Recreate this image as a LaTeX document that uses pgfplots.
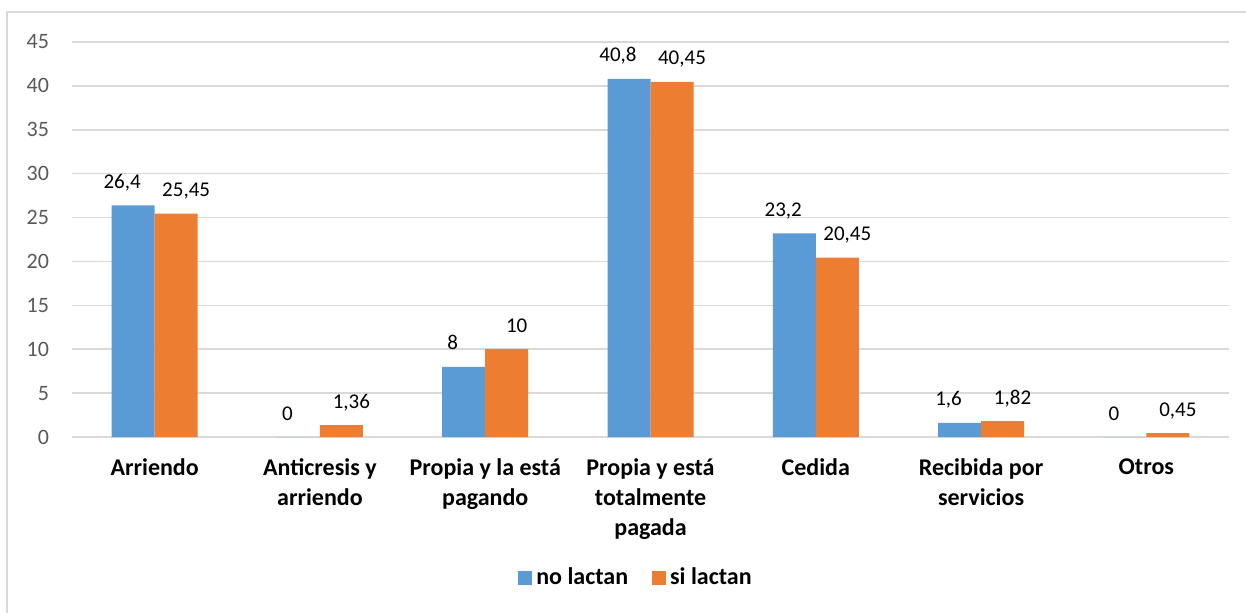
\documentclass[border=0pt]{standalone}
\usepackage{fontspec}
\setmainfont{Carlito}
\usepackage{pgfplots}
\pgfplotsset{compat=1.18}
\definecolor{cblue}{HTML}{5B9BD5}
\definecolor{corange}{HTML}{ED7D31}
\definecolor{gridc}{HTML}{D9D9D9}
\definecolor{ticktext}{HTML}{595959}
\begin{document}
\begin{tikzpicture}
\path[use as bounding box] (-36pt,-87.5pt) rectangle (587pt,218.5pt);
\draw[gridc, line width=0.75pt] (-32.5pt,-95pt) -- (-32.5pt,212.5pt) -- (595pt,212.5pt);
\begin{axis}[
  at={(0pt,0pt)}, anchor=south west,
  scale only axis, width=578.5pt, height=197.5pt,
  ybar=0pt, bar width=21.5pt,
  xmin=-0.5, xmax=6.5, ymin=0, ymax=45,
  ytick={0,5,...,45},
  xtick={0,...,6},
  xticklabels={Arriendo, {Anticresis y\\arriendo}, {Propia y la está\\pagando}, {Propia y está\\totalmente\\pagada}, Cedida, {Recibida por\\servicios}, Otros},
  ymajorgrids, grid style={gridc, line width=0.75pt},
  axis line style={draw=none},
  major tick length=0pt,
  /pgf/number format/assume math mode=true,
  /pgf/number format/use comma,
  /pgf/number format/precision=2,
  yticklabel style={font=\fontsize{11}{13}\selectfont, text=ticktext, xshift=-8pt},
  xticklabel style={font=\bfseries\fontsize{12}{15}\selectfont, align=center, anchor=north, text=black, yshift=-7.5pt},
  nodes near coords,
  nodes near coords style={font=\fontsize{10.5}{13}\selectfont, text=black, anchor=base, yshift=8.5pt},
  legend style={at={(axis description cs:0.5,0)}, anchor=center, xshift=-6.75pt, yshift=-70.5pt, draw=none, legend columns=2, font=\bfseries\fontsize{12}{14}\selectfont, /tikz/every even column/.append style={column sep=10pt}},
  legend image code/.code={\fill[#1] (0pt,-3.5pt) rectangle (7pt,3.5pt);},
]
\addplot[fill=cblue, draw=none, nodes near coords style={xshift=-5.5pt}] coordinates {(0,26.4) (1,0) (2,8) (3,40.8) (4,23.2) (5,1.6) (6,0)};
\addplot[fill=corange, draw=none, nodes near coords style={xshift=5pt}] coordinates {(0,25.45) (1,1.36) (2,10) (3,40.45) (4,20.45) (5,1.82) (6,0.45)};
\legend{no lactan, si lactan}
\end{axis}
\end{tikzpicture}
\end{document}
